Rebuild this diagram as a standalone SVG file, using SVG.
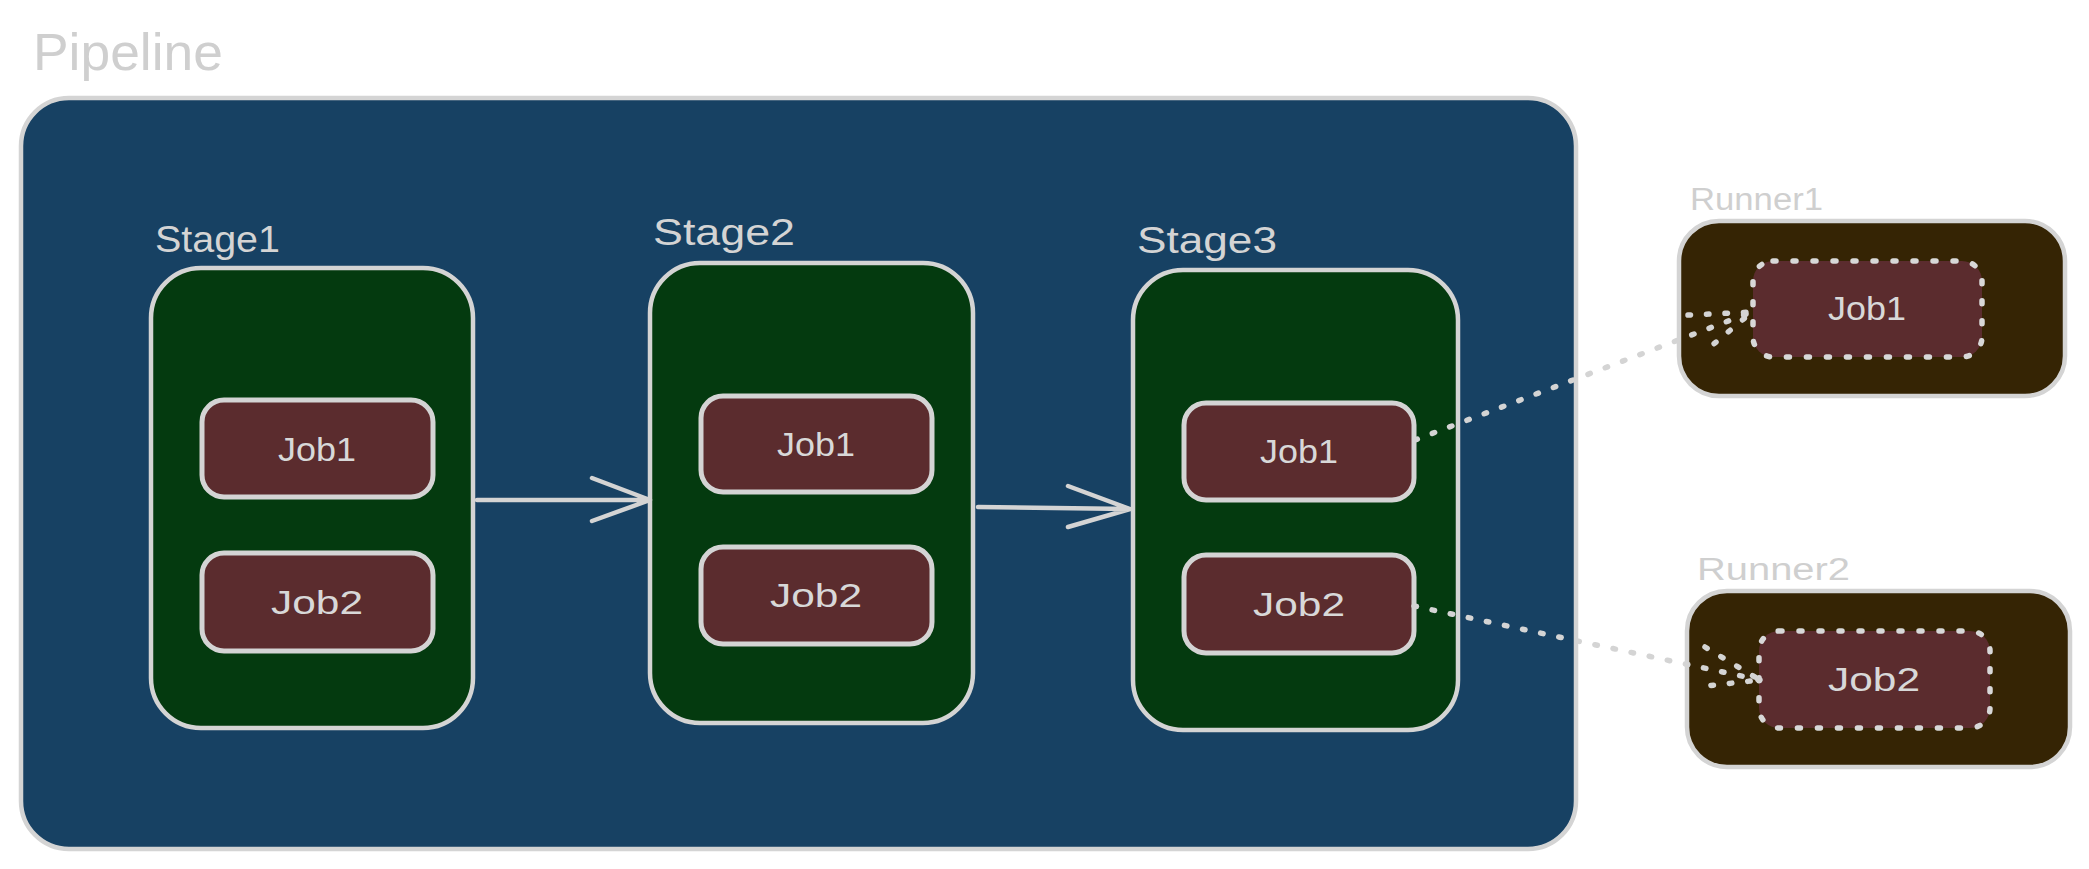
<svg xmlns="http://www.w3.org/2000/svg" width="2089" height="869" viewBox="0 0 2089 869">
<defs>
<style>
.lbl{font-family:"Liberation Sans",Arial,sans-serif;fill:#d4d4d4}
.out{fill:#cfcfcf}
.job{font-family:"Liberation Sans",Arial,sans-serif;fill:#d8d8d8;font-size:34px;text-anchor:middle}
.stage{fill:#043a0f;stroke:#d4d4d4;stroke-width:4.5}
.jobbox{fill:#5b2c2e;stroke:#d4d4d4;stroke-width:5}
.runner{fill:#352404;stroke:#d4d4d4;stroke-width:4.5}
.rjob{fill:#5b2c2e;stroke:#d8d8d8;stroke-width:5.5;stroke-dasharray:3 17;stroke-linecap:round}
.arrow{fill:none;stroke:#d4d4d4;stroke-width:4.5;stroke-linecap:round;stroke-linejoin:round}
.dot{fill:none;stroke:#d4d4d4;stroke-width:5.5;stroke-dasharray:2.5 16;stroke-linecap:round}
</style>
</defs>
<rect width="2089" height="869" fill="#ffffff"/>

<g id="pipeline">
<rect x="21" y="98" width="1555" height="751" rx="48" fill="#174163" stroke="#d4d4d4" stroke-width="4.5"/>
<text class="lbl out" x="33" y="70" font-size="52" textLength="190" lengthAdjust="spacingAndGlyphs">Pipeline</text>
</g>

<g id="stage1">
<text class="lbl" x="155" y="252" font-size="36" textLength="125" lengthAdjust="spacingAndGlyphs">Stage1</text>
<rect class="stage" x="151" y="268" width="322" height="460" rx="50"/>
</g>
<g id="stage1-job1">
<rect class="jobbox" x="202" y="400" width="231" height="97" rx="22"/>
<text class="job" x="317" y="461" textLength="78" lengthAdjust="spacingAndGlyphs">Job1</text>
</g>
<g id="stage1-job2">
<rect class="jobbox" x="202" y="553" width="231" height="98" rx="22"/>
<text class="job" x="317" y="614" textLength="92" lengthAdjust="spacingAndGlyphs">Job2</text>
</g>

<g id="stage2">
<text class="lbl" x="653" y="245" font-size="36" textLength="142" lengthAdjust="spacingAndGlyphs">Stage2</text>
<rect class="stage" x="650" y="263" width="323" height="460" rx="50"/>
</g>
<g id="stage2-job1">
<rect class="jobbox" x="701" y="396" width="231" height="96" rx="22"/>
<text class="job" x="816" y="456" textLength="78" lengthAdjust="spacingAndGlyphs">Job1</text>
</g>
<g id="stage2-job2">
<rect class="jobbox" x="701" y="547" width="231" height="97" rx="22"/>
<text class="job" x="816" y="607" textLength="92" lengthAdjust="spacingAndGlyphs">Job2</text>
</g>

<g id="stage3">
<text class="lbl" x="1137" y="253" font-size="36" textLength="140" lengthAdjust="spacingAndGlyphs">Stage3</text>
<rect class="stage" x="1133" y="270" width="325" height="460" rx="50"/>
</g>
<g id="stage3-job1">
<rect class="jobbox" x="1184" y="403" width="230" height="97" rx="22"/>
<text class="job" x="1299" y="463" textLength="78" lengthAdjust="spacingAndGlyphs">Job1</text>
</g>
<g id="stage3-job2">
<rect class="jobbox" x="1184" y="555" width="230" height="98" rx="22"/>
<text class="job" x="1299" y="616" textLength="92" lengthAdjust="spacingAndGlyphs">Job2</text>
</g>

<g id="runner1">
<text class="lbl out" x="1690" y="210" font-size="31" textLength="133" lengthAdjust="spacingAndGlyphs">Runner1</text>
<rect class="runner" x="1679" y="221" width="386" height="175" rx="40"/>
</g>
<g id="runner1-job1">
<rect class="rjob" x="1753" y="261" width="229" height="96" rx="20"/>
<text class="job" x="1867" y="320" textLength="78" lengthAdjust="spacingAndGlyphs">Job1</text>
</g>

<g id="runner2">
<text class="lbl out" x="1697" y="580" font-size="31" textLength="153" lengthAdjust="spacingAndGlyphs">Runner2</text>
<rect class="runner" x="1687" y="591" width="383" height="176" rx="40"/>
</g>
<g id="runner2-job2">
<rect class="rjob" x="1759" y="631" width="231" height="97" rx="20"/>
<text class="job" x="1874" y="691" textLength="92" lengthAdjust="spacingAndGlyphs">Job2</text>
</g>

<g id="connectors">
<path class="arrow" d="M477 500 L650 500 M592 478 L650 500 L592 521"/>
<path class="arrow" d="M978 507 L1130 509 M1068 486 L1130 509 L1068 527"/>
<path class="dot" d="M1415 440 L1752 312"/>
<path class="dot" d="M1688 315 L1752 312 L1703 353"/>
<path class="dot" d="M1414 606 L1760 680"/>
<path class="dot" d="M1705 647 L1760 680 L1697 687"/>
</g>
</svg>
